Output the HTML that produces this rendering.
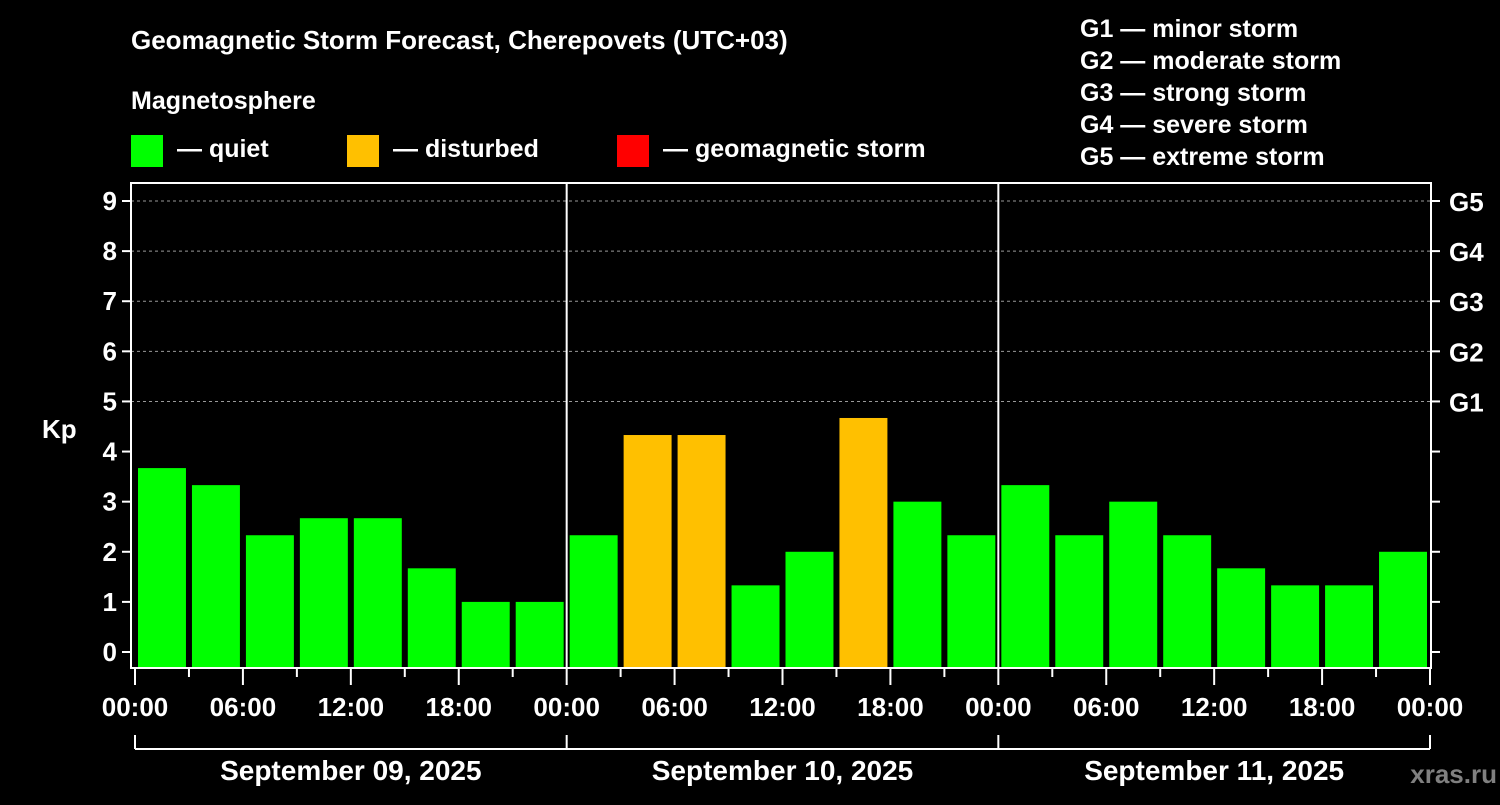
<!DOCTYPE html>
<html><head><meta charset="utf-8"><style>
body{margin:0;background:#000;width:1500px;height:800px;overflow:hidden}
svg text{font-family:"Liberation Sans",sans-serif;font-weight:bold;fill:#fff}
</style></head><body>
<svg id="chart" width="1500" height="800">
<text x="131" y="49" font-size="26">Geomagnetic Storm Forecast, Cherepovets (UTC+03)</text>
<text x="131" y="109" font-size="25">Magnetosphere</text>
<g><rect x="131" y="135" width="32" height="32" fill="#00ff00"/><text x="177" y="157" font-size="25">— quiet</text></g>
<g><rect x="347" y="135" width="32" height="32" fill="#ffc000"/><text x="393" y="157" font-size="25">— disturbed</text></g>
<g><rect x="617" y="135" width="32" height="32" fill="#ff0000"/><text x="663" y="157" font-size="25">— geomagnetic storm</text></g>
<g font-size="25">
<text x="1080" y="37">G1 — minor storm</text>
<text x="1080" y="69">G2 — moderate storm</text>
<text x="1080" y="101">G3 — strong storm</text>
<text x="1080" y="133">G4 — severe storm</text>
<text x="1080" y="165">G5 — extreme storm</text>
</g>
<text x="42" y="438" font-size="26">Kp</text>
<text x="1497" y="783" font-size="26" text-anchor="end" style="fill:#808080">xras.ru</text>
<g id="plot"></g>
</svg>
<script>
const kpValues=[3.67,3.33,2.33,2.67,2.67,1.67,1.0,1.0, 2.33,4.33,4.33,1.33,2.0,4.67,3.0,2.33, 3.33,2.33,3.0,2.33,1.67,1.33,1.33,2.0];
const days=["September 09, 2025","September 10, 2025","September 11, 2025"];
const hourLabels=["00:00","06:00","12:00","18:00"];
const gLabels=["G1","G2","G3","G4","G5"];
const NS="http://www.w3.org/2000/svg";
const g=document.getElementById('plot');
const X0=135,X1=1430,L=131,R=1431,T=183,B=668;
const xh=h=>X0+h*(X1-X0)/72;
const y=v=>652-v*(652-201)/9;
function el(t,a){const e=document.createElementNS(NS,t);for(const k in a)e.setAttribute(k,a[k]);g.appendChild(e);return e;}
// grid
for(let v=5;v<=9;v++){const e=el('line',{x1:L,x2:R,y1:y(v),y2:y(v),stroke:'#999','stroke-dasharray':'3,3','stroke-width':1});

}
// bars
kpValues.forEach((v,i)=>{const x=xh(i*3)+3,w=xh(3)-X0-6;
const c=v>=5?'#ff0000':(v>=4?'#ffc000':'#00ff00');
const e=el('rect',{x:x,y:y(v),width:w,height:B-y(v),fill:c});

});
// frame
const fr=el('rect',{x:L,y:T,width:R-L,height:B-T,fill:'none',stroke:'#fff','stroke-width':2});


for(let d=1;d<3;d++){const e=el('line',{x1:xh(d*24),x2:xh(d*24),y1:T,y2:B,stroke:'#fff','stroke-width':2});

}
// y ticks
for(let v=0;v<=9;v++){
el('line',{x1:122,x2:L,y1:y(v),y2:y(v),stroke:'#fff','stroke-width':2});
el('line',{x1:R,x2:R+9,y1:y(v),y2:y(v),stroke:'#fff','stroke-width':2});
const t=el('text',{x:117,y:y(v)+9,'font-size':26,'text-anchor':'end'});t.textContent=v;


if(v>=5){const gt=el('text',{x:1449,y:y(v)+10,'font-size':26});gt.textContent=gLabels[v-5];

}}
// x ticks
for(let h=0;h<=72;h+=3){const x=xh(h),long=h%6==0;
el('line',{x1:x,x2:x,y1:B,y2:long?685:677,stroke:'#fff','stroke-width':2});
if(long){const t=el('text',{x:x,y:716,'font-size':26,'text-anchor':'middle'});t.textContent=hourLabels[(h%24)/6];

}}
// bracket
el('line',{x1:X0,x2:X1,y1:749,y2:749,stroke:'#fff','stroke-width':2});
for(let d=0;d<=3;d++)el('line',{x1:xh(d*24),x2:xh(d*24),y1:735,y2:749,stroke:'#fff','stroke-width':2});
days.forEach((s,d)=>{const t=el('text',{x:xh(d*24+12),y:780,'font-size':28,'text-anchor':'middle'});t.textContent=s;

});
</script>
</body></html>
